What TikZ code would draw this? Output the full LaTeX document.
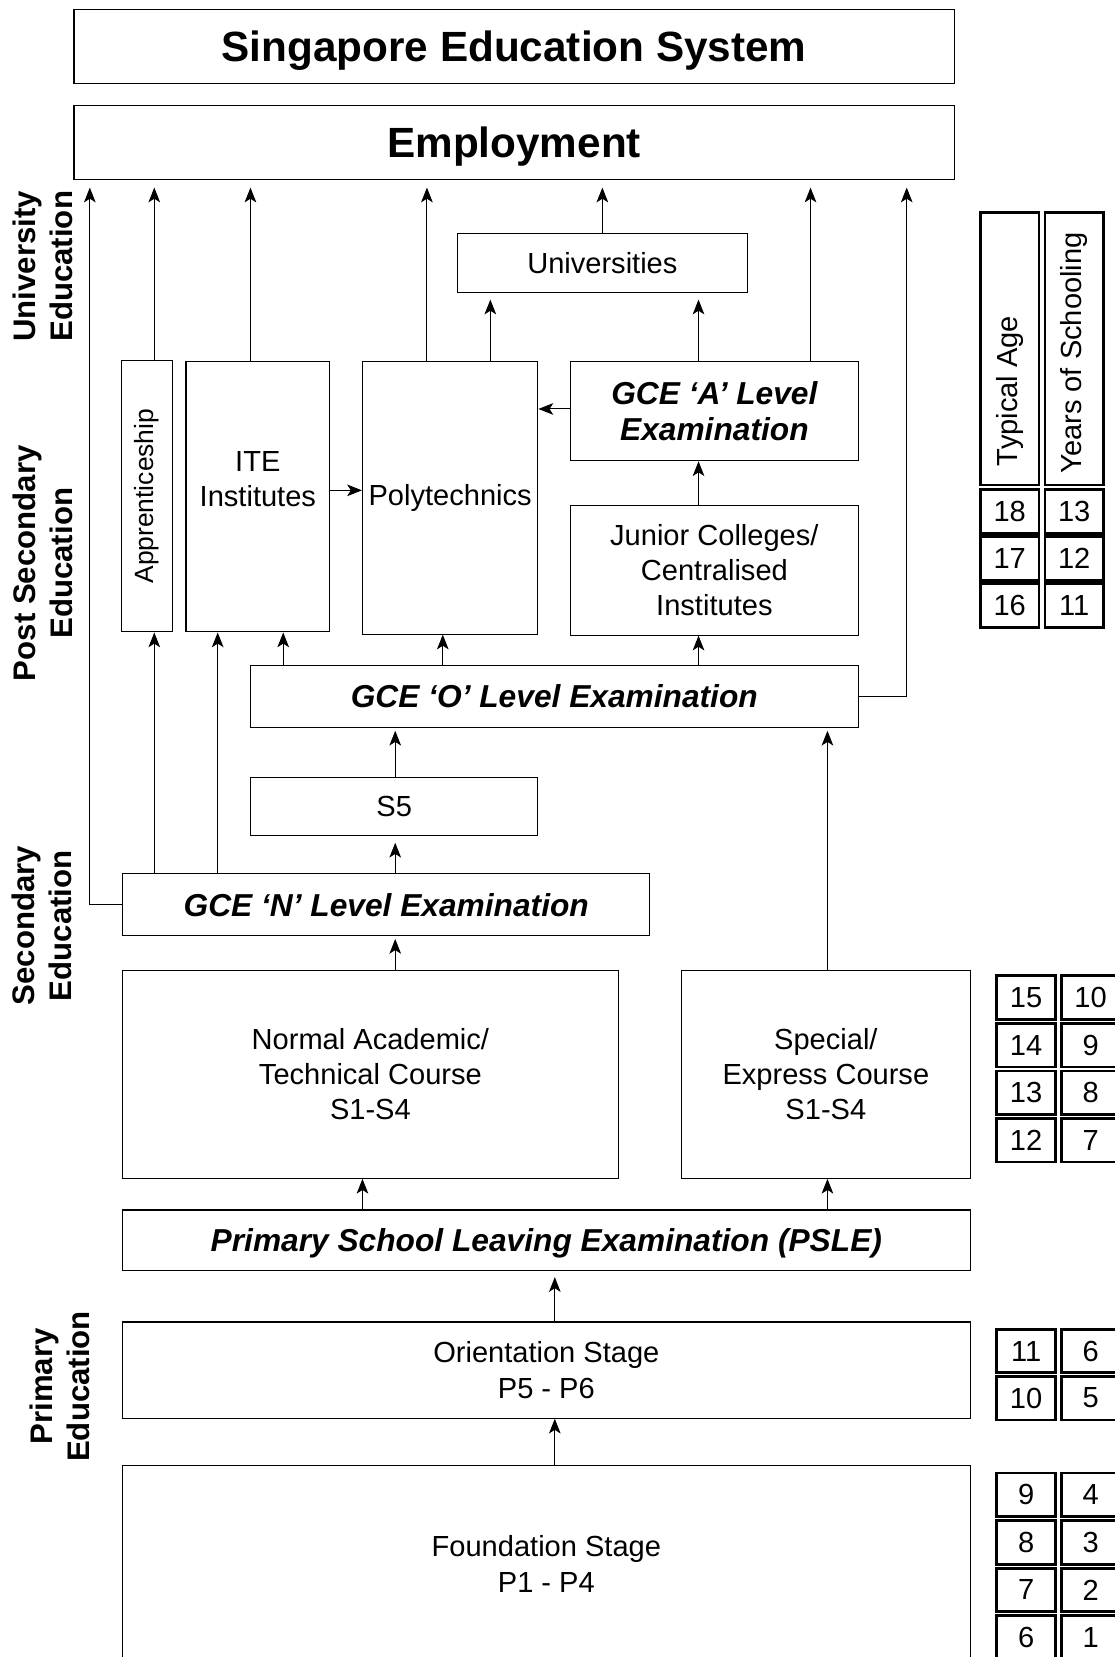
\documentclass[tikz,border=0pt]{standalone}
\usepackage{graphicx}
\usepackage{fontspec}
\setmainfont{Liberation Sans}
\usetikzlibrary{arrows.meta}
\newcommand\txt{\fontsize{27.5}{33.5}\selectfont}
\newcommand\hdfont{\fontsize{40}{48}\selectfont\bfseries}
\newcommand\exfont{\fontsize{30}{34.5}\selectfont\bfseries\itshape}
\newcommand\sidefont{\fontsize{29.5}{35}\selectfont\bfseries}
\begin{document}
\begin{tikzpicture}[x=1pt,y=-1pt,>={Stealth[length=14pt,width=11pt,inset=3.5pt]},
    box/.style={draw,line width=1pt,inner sep=0pt,align=center,font=\txt},
    hd/.style={box,minimum width=833pt,minimum height=70pt,font=\hdfont,text depth=0pt},
    exam/.style={box,font=\exfont,text depth=0pt},
    cell/.style={draw,line width=2.6pt,inner sep=0pt,minimum width=55.4pt,minimum height=41.2pt,font=\txt},
    side/.style={rotate=90,align=center,font=\sidefont},
    arr/.style={->,line width=0.9pt}]
    \useasboundingbox (0,0) rectangle (1055,1568);
    % các khung
    \node[hd] (title) at (486.5,44) {Singapore Education System};
    \node[hd] (emp) at (486.5,135) {Employment};
    \node[box,minimum width=274pt,minimum height=56pt] (univ) at (570,249) {Universities};
    \node[box,minimum width=48pt,minimum height=257pt] (appr) at (139,469.5) {\rotatebox{90}{\fontsize{25}{30}\selectfont Apprenticeship}};
    \node[box,minimum width=136pt,minimum height=256pt] (ite) at (244,470) {ITE\\Institutes\\\mbox{}};
    \node[box,minimum width=166pt,minimum height=258pt] (poly) at (426,471) {Polytechnics};
    \node[exam,minimum width=272pt,minimum height=94pt] (alev) at (676,389) {GCE ‘A’ Level\\Examination};
    \node[box,minimum width=272pt,minimum height=123pt] (jc) at (676,539.5) {Junior Colleges/\\Centralised\\Institutes};
    \node[exam,minimum width=575pt,minimum height=58pt] (olev) at (524.5,659) {GCE ‘O’ Level Examination};
    \node[box,minimum width=272pt,minimum height=55pt] (s5) at (373,763.5) {S5};
    \node[exam,minimum width=499pt,minimum height=58pt] (nlev) at (365.5,856) {GCE ‘N’ Level Examination};
    \node[box,minimum width=469pt,minimum height=197pt] (nacad) at (350.5,1016.5) {Normal Academic/\\Technical Course\\S1-S4};
    \node[box,minimum width=273pt,minimum height=197pt] (sexp) at (781.5,1016.5) {Special/\\Express Course\\S1-S4};
    \node[exam,minimum width=802pt,minimum height=57pt] (psle) at (517,1173.5) {Primary School Leaving Examination (PSLE)};
    \node[box,minimum width=802pt,minimum height=91pt] (orient) at (517,1296.5) {Orientation Stage\\P5 - P6};
    \node[box,minimum width=802pt,minimum height=186pt] (found) at (517,1480) {Foundation Stage\\P1 - P4};
    % nhãn bên trái
    \node[side] (sduni) at (40.5,252) {University\\Education};
    \node[side] (sdpost) at (40.5,533) {Post Secondary\\Education};
    \node[side] (sdsec) at (40,876) {Secondary\\Education};
    \node[side] (sdpri) at (57,1312) {Primary\\Education};
    % bảng tuổi
    \node[cell,minimum height=258pt] (agehd) at (955.5,330) {};
    \node[cell,minimum height=258pt] (yrshd) at (1016.5,330) {};
    \node[rotate=90,font=\txt] (agetxt) at (955.5,370) {Typical Age};
    \node[rotate=90,font=\txt] (yrstxt) at (1016.5,334) {Years of Schooling};
    \foreach \a/\b/\y in {18/13/484,17/12/528.5,16/11/573}
    {\node[cell] (age\a) at (955.5,\y) {\a}; \node[cell] (yrs\b) at (1016.5,\y) {\b};}
    \foreach \a/\b/\y in {15/10/944,14/9/989,13/8/1034,12/7/1079,11/6/1278.5,10/5/1323,9/4/1414.5,8/3/1459.5,7/2/1504.5,6/1/1549.5}
    {\node[cell] (age\a) at (971,\y) {\a}; \node[cell] (yrs\b) at (1032,\y) {\b};}
    % làn mũi tên
    \foreach \n/\x in {l1/85,l2/146,l3/206,l4/237,l5/268,l6/343,l7/374,l8/404,l9/419,l10/464,l11/525,l12/570,l13/661,l14/767,l15/783,l16/858}
    \coordinate (\n) at (\x,0);
    \coordinate (r1) at (0,387);
    \coordinate (r2) at (0,464);
    \foreach \l/\a/\b/\s in {l2/appr/emp/7,l4/ite/emp/7,l8/poly/emp/7,l12/univ/emp/7,l14/alev/emp/7,
        l10/poly/univ/6,l13/alev/univ/6,l13/jc/alev/0,l5/olev/ite/0,l9/olev/poly/0,l13/olev/jc/0,
        l2/nlev/appr/0,l3/nlev/ite/0,l7/nlev/s5/6,l7/s5/olev/3,l7/nacad/nlev/3,l15/sexp/olev/3,
        l6/psle/nacad/0,l15/psle/sexp/0,l11/orient/psle/6,l11/found/orient/0}
    \draw[arr,shorten >=\s pt] (\l |- \a.north) -- (\l |- \b.south);
    \draw[arr] (ite.east |- r2) -- (poly.west |- r2);
    \draw[arr] (alev.west |- r1) -- (poly.east |- r1);
    \draw[arr,shorten >=7pt] (nlev.west) -| (l1 |- emp.south);
    \draw[arr,shorten >=7pt] (olev.east) -| (l16 |- emp.south);
\end{tikzpicture}
\end{document}
